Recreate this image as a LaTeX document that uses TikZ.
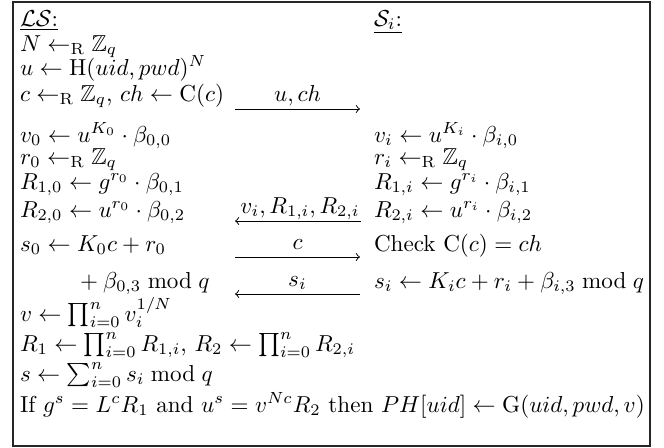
\documentclass[tikz,border=0pt]{standalone}
\usepackage{amsmath,amssymb}
\begin{document}
\begin{tikzpicture}[x=0.433pt,y=-0.433pt,
  txt/.style={anchor=base west, inner sep=0pt, outer sep=0pt},
  lab/.style={anchor=base, inner sep=0pt, outer sep=0pt},
  msg/.style={line width=0.4pt, ->},
  msgl/.style={line width=0.4pt, <-}]
\useasboundingbox (0,0) rectangle (664,448);
\draw[line width=0.6pt, draw=black!85] (13,2) rectangle (650,446);
% left column
\node[txt] (ls)  at (20,26)  {\underline{$\mathcal{LS}$:}};
\node[txt] (l1)  at (20,51)  {$N \leftarrow_{\mathrm{R}} \mathbb{Z}_q$};
\node[txt] (l2)  at (20,75)  {$u \leftarrow \mathrm{H}(uid, pwd)^N$};
\node[txt] (l3)  at (20,101) {$c \leftarrow_{\mathrm{R}} \mathbb{Z}_q$, $ch \leftarrow \mathrm{C}(c)$};
\node[txt] (l4)  at (20,142) {$v_0 \leftarrow u^{K_0}\cdot \beta_{0,0}$};
\node[txt] (l5)  at (20,164) {$r_0 \leftarrow_{\mathrm{R}} \mathbb{Z}_q$};
\node[txt] (l6)  at (20,189) {$R_{1,0} \leftarrow g^{r_0}\cdot \beta_{0,1}$};
\node[txt] (l7)  at (20,217) {$R_{2,0} \leftarrow u^{r_0}\cdot \beta_{0,2}$};
\node[txt] (l8)  at (20,251) {$s_0 \leftarrow K_0c + r_0$};
\node[txt] (l9)  at (75,288) {${}+ \beta_{0,3} \bmod q$};
\node[txt] (l10) at (20,321) {$v \leftarrow \prod_{i=0}^n v_i^{1/N}$};
\node[txt] (l11) at (20,351) {$R_1 \leftarrow \prod_{i=0}^n R_{1,i}$, $R_2 \leftarrow \prod_{i=0}^n R_{2,i}$};
\node[txt] (l12) at (20,381) {$s \leftarrow \sum_{i=0}^n s_i \bmod q$};
\node[txt] (l13) at (20,412) {If $g^s = L^cR_1$ and $u^s = v^{Nc}R_2$ then $PH[uid] \leftarrow \mathrm{G}(uid, pwd, v)$};
% right column
\node[txt] (si) at (374,26)  {\underline{$\mathcal{S}_i$:}};
\node[txt] (r1) at (374,142) {$v_i \leftarrow u^{K_i}\cdot \beta_{i,0}$};
\node[txt] (r2) at (374,164) {$r_i \leftarrow_{\mathrm{R}} \mathbb{Z}_q$};
\node[txt] (r3) at (374,189) {$R_{1,i} \leftarrow g^{r_i}\cdot \beta_{i,1}$};
\node[txt] (r4) at (374,217) {$R_{2,i} \leftarrow u^{r_i}\cdot \beta_{i,2}$};
\node[txt] (r5) at (374,251) {Check $\mathrm{C}(c) = ch$};
\node[txt] (r6) at (374,288) {$s_i \leftarrow K_ic + r_i + \beta_{i,3} \bmod q$};
% messages
\coordinate (a1s) at (235,109); \coordinate (a1e) at (360,109);
\coordinate (a2s) at (235,221); \coordinate (a2e) at (361,221);
\coordinate (a3s) at (235,257); \coordinate (a3e) at (360,257);
\coordinate (a4s) at (235,294); \coordinate (a4e) at (360,294);
\draw[msg]  (a1s) -- (a1e);
\draw[msgl] (a2s) -- (a2e);
\draw[msg]  (a3s) -- (a3e);
\draw[msgl] (a4s) -- (a4e);
\node[lab] (m1) at (297.5,101) {$u, ch$};
\node[lab] (m2) at (300,213)   {$v_i, R_{1,i}, R_{2,i}$};
\node[lab] (m3) at (297.5,249) {$c$};
\node[lab] (m4) at (297.5,286) {$s_i$};
\end{tikzpicture}
\end{document}
